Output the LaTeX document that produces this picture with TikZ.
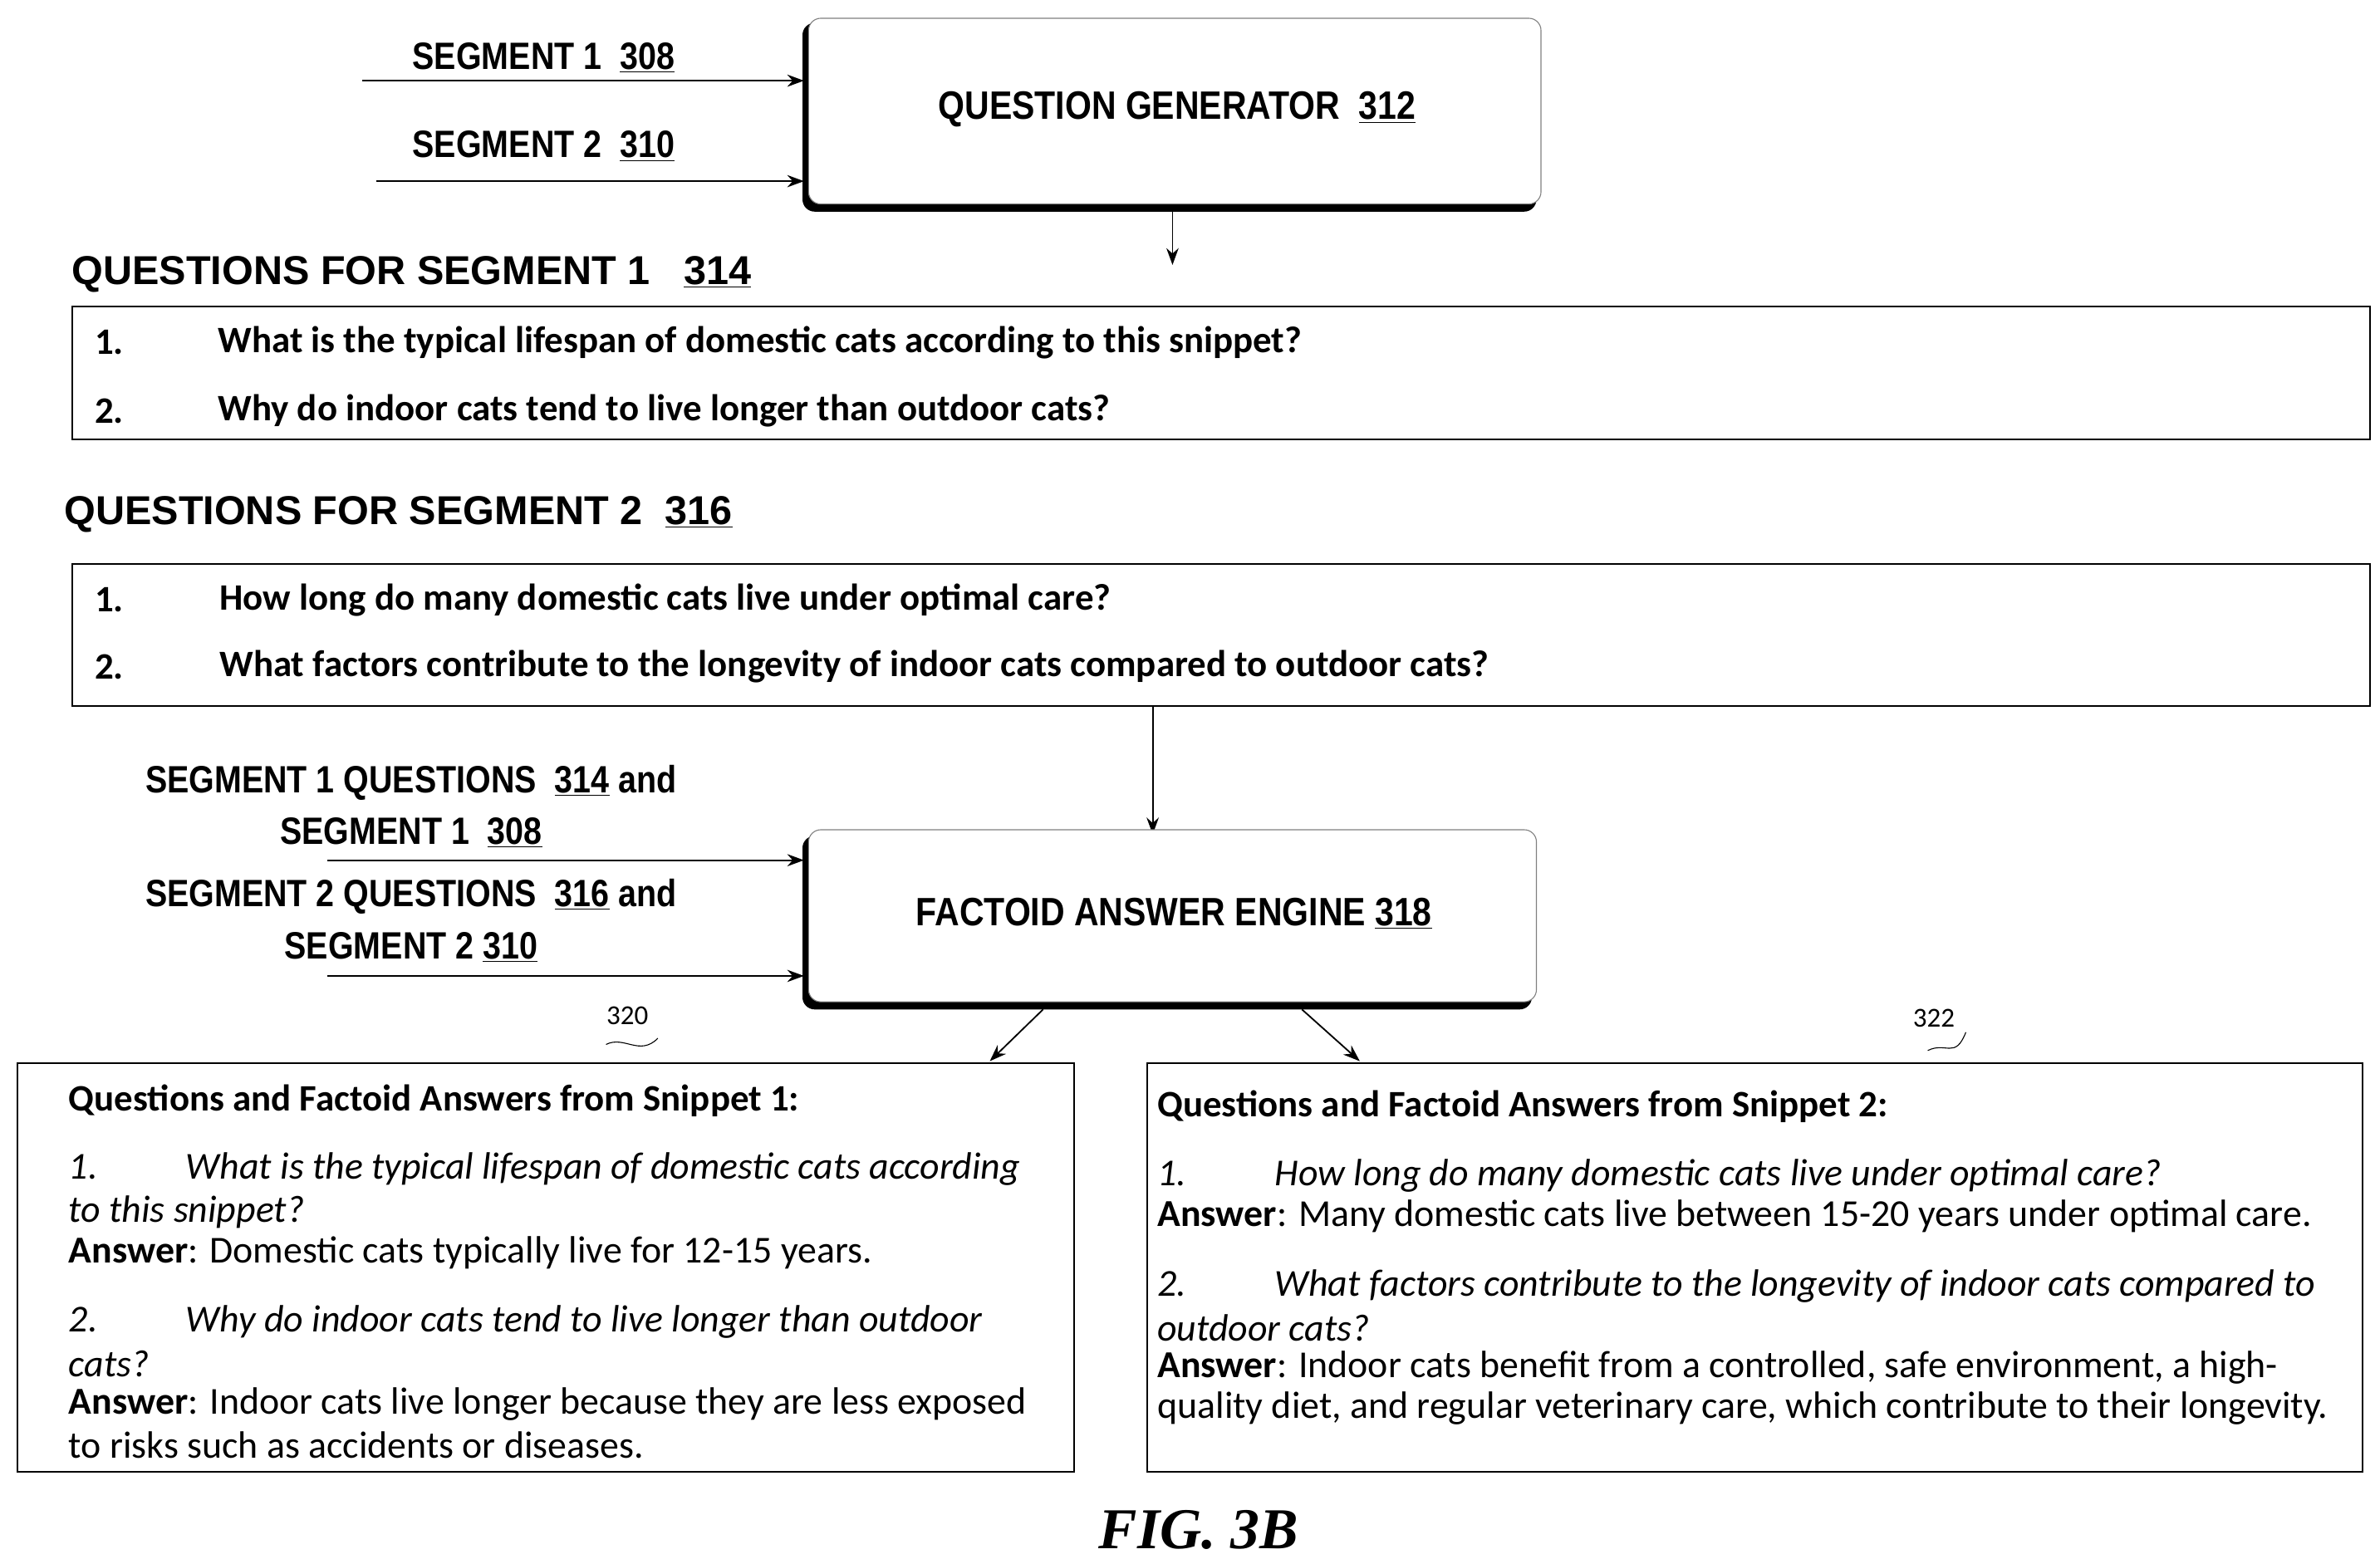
\documentclass[tikz,border=0pt]{standalone}
\usepackage{fontspec}
\setmainfont{Carlito}
\newfontfamily\hd{Liberation Sans}
\newfontfamily\nar[FakeStretch=0.86]{Liberation Sans}
\newfontfamily\fig{Liberation Serif}
\usetikzlibrary{arrows.meta}
\begin{document}
\begin{tikzpicture}[x=1pt,y=-1pt,
  arr/.style={-{Stealth[length=11pt,width=8pt]},line width=1pt},
  box/.style={draw,line width=1pt},
  seg/.style={font=\nar\bfseries\fontsize{25}{28}\selectfont,inner sep=0pt},
  head/.style={font=\hd\bfseries\fontsize{26.5}{28}\selectfont,anchor=west,inner sep=0pt},
  q/.style={font=\bfseries\fontsize{24.5}{26}\selectfont,anchor=west,inner sep=0pt},
  t/.style={font=\fontsize{25}{27}\selectfont,anchor=west,inner sep=0pt},
  big/.style={font=\nar\bfseries\fontsize{26}{30}\selectfont,inner sep=0pt}]
\useasboundingbox (0,0) rectangle (1563,1027);
% question generator
\fill[rounded corners=8pt] (527,15) rectangle (1009,139);
\draw[rounded corners=8pt,fill=white,draw=gray,line width=0.6pt] (531,12) rectangle (1012,134);
\node[big] (qg) at (773,72) {QUESTION GENERATOR\ \ \underline{312}};
\coordinate (s1a) at (238,53); \coordinate (s1b) at (528,53);
\coordinate (s2a) at (247,119); \coordinate (s2b) at (528,119);
\draw[arr] (s1a) -- (s1b); \draw[arr] (s2a) -- (s2b);
\node[seg] (l1) at (357,38) {SEGMENT 1\ \ \underline{308}};
\node[seg] (l2) at (357,96) {SEGMENT 2\ \ \underline{310}};
\coordinate (g1) at (770,136); \coordinate (g2) at (770,174);
\draw[arr] (g1) -- (g2);
% segment 1 questions
\node[head] (h1) at (47,180) {QUESTIONS FOR SEGMENT 1\ \ \ \underline{314}};
\node[box,minimum width=1509pt,minimum height=87pt,anchor=north west] (b1) at (47,201) {};
\node[q] (n11) at (62,225) {1.}; \node[q] (q11) at (143,225) {What is the typical lifespan of domestic cats according to this snippet?};
\node[q] (n12) at (62,270) {2.}; \node[q] (q12) at (143,270) {Why do indoor cats tend to live longer than outdoor cats?};
% segment 2
\node[head] (h2) at (42,338) {QUESTIONS FOR SEGMENT 2\ \ \underline{316}};
\node[box,minimum width=1509pt,minimum height=93pt,anchor=north west] (b2) at (47,370) {};
\node[q] (n21) at (62,394) {1.}; \node[q] (q21) at (144,394) {How long do many domestic cats live under optimal care?};
\node[q] (n22) at (62,438) {2.}; \node[q] (q22) at (144,438) {What factors contribute to the longevity of indoor cats compared to outdoor cats?};
\coordinate (c1) at (757,463); \coordinate (c2) at (757,548);
\draw[arr] (c1) -- (c2);
% factoid
\fill[rounded corners=8pt] (527,549) rectangle (1006,663);
\draw[rounded corners=8pt,fill=white,draw=gray,line width=0.6pt] (531,545) rectangle (1009,658);
\node[big] (fa) at (771,600) {FACTOID ANSWER ENGINE \underline{318}};
\node[seg] (l3) at (270,514) {SEGMENT 1 QUESTIONS\ \ \underline{314} and};
\node[seg] (l4) at (270,547) {SEGMENT 1\ \ \underline{308}};
\node[seg] (l5) at (270,589) {SEGMENT 2 QUESTIONS\ \ \underline{316} and};
\node[seg] (l6) at (270,622) {SEGMENT 2 \underline{310}};
\coordinate (d1) at (215,565); \coordinate (d2) at (528,565);
\coordinate (e1) at (215,641); \coordinate (e2) at (528,641);
\draw[arr] (d1) -- (d2); \draw[arr] (e1) -- (e2);
\coordinate (f1) at (685,663); \coordinate (f2) at (650,697);
\coordinate (k1) at (855,663); \coordinate (k2) at (893,697);
\draw[arr] (f1) -- (f2); \draw[arr] (k1) -- (k2);
% answer boxes
\node[box,minimum width=694pt,minimum height=268pt,anchor=north west] (a1) at (11,698) {};
\node[box,minimum width=798pt,minimum height=268pt,anchor=north west] (a2) at (753,698) {};
\node[font=\fontsize{18}{20}\selectfont] (r1) at (412,667) {320};
\draw[line width=0.6pt] (398,686) .. controls (410,680) and (420,694) .. (432,682);
\node[font=\fontsize{18}{20}\selectfont] (r2) at (1270,669) {322};
\draw[line width=0.6pt] (1266,690) .. controls (1278,684) and (1284,696) .. (1291,678);
\node[q] (p1) at (45,723) {Questions and Factoid Answers from Snippet 1:};
\node[t] (p2) at (45,768) {\itshape 1.\hspace{58pt}What is the typical lifespan of domestic cats according};
\node[t] (p3) at (45,796) {\itshape to this snippet?};
\node[t] (p4) at (45,823) {\textbf{Answer}: Domestic cats typically live for 12-15 years.};
\node[t] (p5) at (45,868) {\itshape 2.\hspace{58pt}Why do indoor cats tend to live longer than outdoor};
\node[t] (p6) at (45,896) {\itshape cats?};
\node[t] (p7) at (45,922) {\textbf{Answer}: Indoor cats live longer because they are less exposed};
\node[t] (p8) at (45,949) {to risks such as accidents or diseases.};
\node[q] (m1) at (760,727) {Questions and Factoid Answers from Snippet 2:};
\node[t] (m2) at (760,772) {\itshape 1.\hspace{58pt}How long do many domestic cats live under optimal care?};
\node[t] (m3) at (760,799) {\textbf{Answer}: Many domestic cats live between 15-20 years under optimal care.};
\node[t] (m4) at (760,845) {\itshape 2.\hspace{58pt}What factors contribute to the longevity of indoor cats compared to};
\node[t] (m5) at (760,872) {\itshape outdoor cats?};
\node[t] (m6) at (760,898) {\textbf{Answer}: Indoor cats benefit from a controlled, safe environment, a high-};
\node[t] (m7) at (760,925) {quality diet, and regular veterinary care, which contribute to their longevity.};
\node[font=\fig\bfseries\itshape\fontsize{38}{40}\selectfont] (fg) at (787,1005) {FIG. 3B};
\end{tikzpicture}
\end{document}
